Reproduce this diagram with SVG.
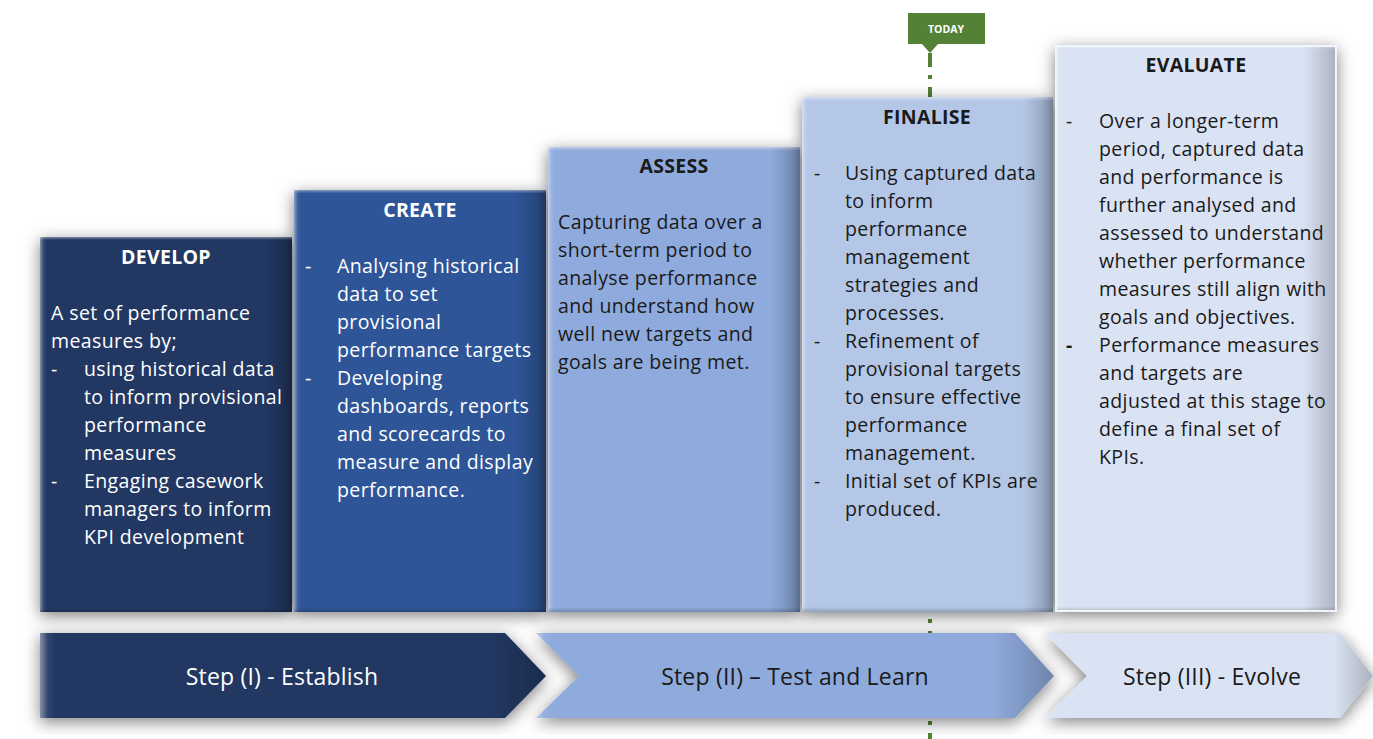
<svg xmlns="http://www.w3.org/2000/svg" width="1373" height="739" viewBox="0 0 1373 739">
<style>
.t{font-family:"Open Sans","Liberation Sans",sans-serif;font-size:19.5px;letter-spacing:0.4px;}
.h{font-family:"Open Sans","Liberation Sans",sans-serif;font-size:19.5px;letter-spacing:0.3px;font-weight:bold;text-anchor:middle;}
.s{font-family:"Open Sans","Liberation Sans",sans-serif;font-size:23px;letter-spacing:0.2px;text-anchor:middle;}
.w{fill:#ffffff;}
.d{fill:#1a1a1a;}
.col{filter:url(#sh);}
</style>
<defs>
<filter id="sh" x="-20%" y="-20%" width="140%" height="140%">
<feDropShadow dx="0" dy="4" stdDeviation="8" flood-color="#000" flood-opacity="0.5"/>
</filter>
<linearGradient id="bev" x1="0" y1="0" x2="1" y2="0">
<stop offset="0" stop-color="#fff" stop-opacity="0.45"/>
<stop offset="0.015" stop-color="#fff" stop-opacity="0.08"/>
<stop offset="0.03" stop-color="#fff" stop-opacity="0"/>
<stop offset="0.88" stop-color="#000" stop-opacity="0"/>
<stop offset="1" stop-color="#000" stop-opacity="0.22"/>
</linearGradient>
<linearGradient id="bevv" x1="0" y1="0" x2="0" y2="1">
<stop offset="0" stop-color="#fff" stop-opacity="0.4"/>
<stop offset="0.008" stop-color="#fff" stop-opacity="0"/>
<stop offset="0.99" stop-color="#000" stop-opacity="0"/>
<stop offset="1" stop-color="#000" stop-opacity="0.2"/>
</linearGradient>
</defs>
<rect width="1373" height="739" fill="#ffffff"/>

<g id="connectors">
<line x1="930" y1="53" x2="930" y2="739" stroke="#538135" stroke-width="4" stroke-dasharray="14 8 4 8"/>
</g>

<g id="today">
<path d="M908,13 H985 V44 H938 L930,53 L922,44 H908 Z" fill="#538135"/>
<text x="946" y="33" font-family="'Open Sans','Liberation Sans',sans-serif" font-size="10.5" font-weight="bold" fill="#ffffff" text-anchor="middle">TODAY</text>
</g>

<g id="develop">
<rect class="col" x="40" y="237" width="252" height="375" fill="#203864"/>
<rect x="40" y="237" width="252" height="375" fill="url(#bev)"/>
<rect x="40" y="237" width="252" height="375" fill="url(#bevv)"/>
<text class="h w" x="166" y="264">DEVELOP</text>
<text class="t w" x="51" y="320">A set of performance</text>
<text class="t w" x="51" y="348">measures by;</text>
<text class="t w" x="51" y="376">-</text><text class="t w" x="84" y="376">using historical data</text>
<text class="t w" x="84" y="404">to inform provisional</text>
<text class="t w" x="84" y="432">performance</text>
<text class="t w" x="84" y="460">measures</text>
<text class="t w" x="51" y="488">-</text><text class="t w" x="84" y="488">Engaging casework</text>
<text class="t w" x="84" y="516">managers to inform</text>
<text class="t w" x="84" y="544">KPI development</text>
</g>

<g id="create">
<rect class="col" x="294" y="190" width="252" height="422" fill="#2f5597"/>
<rect x="294" y="190" width="252" height="422" fill="url(#bev)"/>
<rect x="294" y="190" width="252" height="422" fill="url(#bevv)"/>
<text class="h w" x="420" y="217">CREATE</text>
<text class="t w" x="305" y="273">-</text><text class="t w" x="337" y="273">Analysing historical</text>
<text class="t w" x="337" y="301">data to set</text>
<text class="t w" x="337" y="329">provisional</text>
<text class="t w" x="337" y="357">performance targets</text>
<text class="t w" x="305" y="385">-</text><text class="t w" x="337" y="385">Developing</text>
<text class="t w" x="337" y="413">dashboards, reports</text>
<text class="t w" x="337" y="441">and scorecards to</text>
<text class="t w" x="337" y="469">measure and display</text>
<text class="t w" x="337" y="497">performance.</text>
</g>

<g id="assess">
<rect class="col" x="548" y="147" width="252" height="465" fill="#8faadc"/>
<rect x="548" y="147" width="252" height="465" fill="url(#bev)"/>
<rect x="548" y="147" width="252" height="465" fill="url(#bevv)"/>
<text class="h d" x="674" y="173">ASSESS</text>
<text class="t d" x="558" y="229">Capturing data over a</text>
<text class="t d" x="558" y="257">short-term period to</text>
<text class="t d" x="558" y="285">analyse performance</text>
<text class="t d" x="558" y="313">and understand how</text>
<text class="t d" x="558" y="341">well new targets and</text>
<text class="t d" x="558" y="369">goals are being met.</text>
</g>

<g id="finalise">
<rect class="col" x="802" y="97" width="251" height="515" fill="#b4c7e7"/>
<rect x="802" y="97" width="251" height="515" fill="url(#bev)"/>
<rect x="802" y="97" width="251" height="515" fill="url(#bevv)"/>
<text class="h d" x="927" y="124">FINALISE</text>
<text class="t d" x="814" y="180">-</text><text class="t d" x="845" y="180">Using captured data</text>
<text class="t d" x="845" y="208">to inform</text>
<text class="t d" x="845" y="236">performance</text>
<text class="t d" x="845" y="264">management</text>
<text class="t d" x="845" y="292">strategies and</text>
<text class="t d" x="845" y="320">processes.</text>
<text class="t d" x="814" y="348">-</text><text class="t d" x="845" y="348">Refinement of</text>
<text class="t d" x="845" y="376">provisional targets</text>
<text class="t d" x="845" y="404">to ensure effective</text>
<text class="t d" x="845" y="432">performance</text>
<text class="t d" x="845" y="460">management.</text>
<text class="t d" x="814" y="488">-</text><text class="t d" x="845" y="488">Initial set of KPIs are</text>
<text class="t d" x="845" y="516">produced.</text>
</g>

<g id="evaluate">
<rect class="col" x="1055" y="45" width="282" height="567" fill="#dae3f3"/>
<rect x="1055" y="45" width="282" height="567" fill="url(#bev)"/>
<rect x="1055" y="45" width="282" height="567" fill="url(#bevv)"/>
<rect x="1056" y="46" width="280" height="565" fill="none" stroke="#f2f5fb" stroke-width="2"/>
<text class="h d" x="1196" y="72">EVALUATE</text>
<text class="t d" x="1066" y="128">-</text><text class="t d" x="1099" y="128">Over a longer-term</text>
<text class="t d" x="1099" y="156">period, captured data</text>
<text class="t d" x="1099" y="184">and performance is</text>
<text class="t d" x="1099" y="212">further analysed and</text>
<text class="t d" x="1099" y="240">assessed to understand</text>
<text class="t d" x="1099" y="268">whether performance</text>
<text class="t d" x="1099" y="296">measures still align with</text>
<text class="t d" x="1099" y="324">goals and objectives.</text>
<text class="t d" x="1066" y="352" font-weight="bold">-</text><text class="t d" x="1099" y="352">Performance measures</text>
<text class="t d" x="1099" y="380">and targets are</text>
<text class="t d" x="1099" y="408">adjusted at this stage to</text>
<text class="t d" x="1099" y="436">define a final set of</text>
<text class="t d" x="1099" y="464">KPIs.</text>
</g>

<g id="step1">
<polygon class="col" points="40,633 505,633 546,676 505,718 40,718" fill="#203864"/>
<polygon points="40,633 505,633 546,676 505,718 40,718" fill="url(#bev)"/>
<text class="s w" x="282" y="685">Step (I) - Establish</text>
</g>

<g id="step2">
<polygon class="col" points="536,633 1015,633 1054,676 1015,718 536,718 579,676" fill="#8faadc"/>
<polygon points="536,633 1015,633 1054,676 1015,718 536,718 579,676" fill="url(#bev)"/>
<text class="s d" x="795" y="685">Step (II) – Test and Learn</text>
</g>

<g id="step3">
<polygon class="col" points="1045,633 1340,633 1373,676 1340,718 1045,718 1087,676" fill="#dae3f3"/>
<polygon points="1045,633 1340,633 1373,676 1340,718 1045,718 1087,676" fill="url(#bev)"/>
<text class="s d" x="1212" y="685">Step (III) - Evolve</text>
</g>
</svg>
